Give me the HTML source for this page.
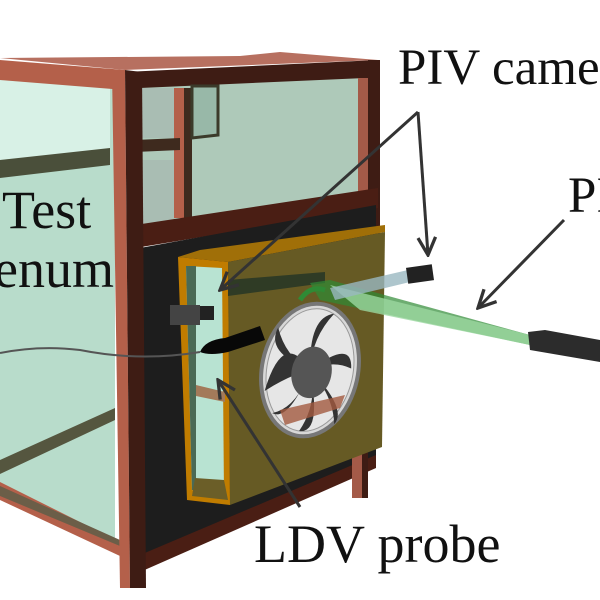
<!DOCTYPE html>
<html><head><style>html,body{margin:0;padding:0;background:#fff;}svg{display:block}</style></head>
<body>
<svg width="600" height="600" viewBox="0 0 600 600" xmlns="http://www.w3.org/2000/svg">
<defs>
<marker id="ah2" viewBox="0 0 20 20" markerWidth="22" markerHeight="22" refX="18" refY="10" orient="auto" markerUnits="userSpaceOnUse">
<path d="M2,2 L18,10 L2,18" fill="none" stroke="#333" stroke-width="3"/>
</marker>
</defs>
<polygon points="0,80 115,88 115,545 0,490" fill="#b8dccb"/>
<polygon points="0,80 110,88 110,150 0,160" fill="#d8f1e6"/>
<polygon points="0,160 110,148 110,165 0,178" fill="#4a4f3a"/>
<polygon points="0,460 115,408 115,420 0,474" fill="#55563f"/>
<polygon points="0,482 120,542 120,556 0,500" fill="#b4604a"/>
<polygon points="0,496 120,546 120,540 0,486" fill="#6b5e48"/>
<polygon points="0,60 125,70 125,90 0,80" fill="#b4604a"/>
<polygon points="0,58 240,56 280,52 378,60 125,70" fill="#b77060"/>
<polygon points="125,72 378,60 378,80 140,90" fill="#3e1c14"/>
<polygon points="140,88 365,78 365,195 140,225" fill="#aec9b9"/>
<rect x="135" y="88" width="40" height="50" fill="#a9bdb3"/>
<rect x="135" y="160" width="40" height="65" fill="#a9bdb3"/>
<rect x="174" y="88" width="10" height="130" fill="#b4604a"/>
<rect x="184" y="88" width="8" height="130" fill="#3e2a1e"/>
<polygon points="192,86 218,86 218,135 192,138" fill="#98b8a8" stroke="#3b3a2a" stroke-width="3"/>
<polygon points="135,140 180,138 180,150 135,152" fill="#3e2a1e"/>
<rect x="358" y="78" width="10" height="120" fill="#a45a48"/>
<rect x="368" y="60" width="12" height="175" fill="#3e1c14"/>
<polygon points="135,225 378,188 378,208 135,248" fill="#4a1e14"/>
<polygon points="140,248 376,205 376,460 140,560" fill="#1d1d1d"/>
<polygon points="140,555 376,455 376,468 140,572" fill="#4a1e14"/>
<polygon points="112,70 125,70 130,588 120,588" fill="#b4604a"/>
<polygon points="125,70 142,72 146,588 130,588" fill="#3e1c14"/>
<rect x="352" y="452" width="10" height="46" fill="#a45a48"/>
<rect x="362" y="452" width="6" height="46" fill="#3e1c14"/>
<polygon points="178,257 200,250 385,225 385,232 228,262" fill="#a06f08"/>
<polygon points="228,262 385,232 382,447 230,505" fill="#665a24"/>
<polygon points="178,257 228,262 230,505 187,500" fill="#c07c00"/>
<polygon points="186,266 222,268 224,495 192,490" fill="#b8e3d2"/>
<polygon points="186,266 196,266 196,490 192,490" fill="#4a6a55"/>
<polygon points="196,385 225,392 225,402 196,396" fill="#a37a5a"/>
<polygon points="195,478 224,480 228,500 192,496" fill="#6b5e28"/>
<polygon points="228,280 325,272 325,283 228,296" fill="#2f3b25"/>
<g transform="rotate(12 310 370)">
<ellipse cx="310" cy="370" rx="48" ry="67" fill="#d8d8d8" stroke="#777" stroke-width="4"/>
<ellipse cx="310" cy="370" rx="43" ry="62" fill="#e6e6e6" stroke="#999" stroke-width="1"/>
<g fill="#333">
<path d="M310,370 Q275,335 270,400 Q290,380 310,370Z"/>
<path d="M310,370 Q300,425 282,420 Q305,410 310,370Z"/>
<path d="M310,370 Q335,430 312,432 Q325,400 310,370Z"/>
<path d="M310,370 Q355,400 345,418 Q338,390 310,370Z"/>
<path d="M310,370 Q262,362 270,335 Q283,362 310,370Z"/>
<path d="M310,370 Q298,318 322,310 Q305,338 310,370Z"/>
<path d="M310,370 Q345,330 350,360 Q330,355 310,370Z"/>
</g>
<ellipse cx="312" cy="372" rx="20" ry="26" fill="#555"/>
</g>
<polygon points="280,410 345,395 340,408 285,425" fill="#a35a40" opacity="0.8"/>
<polygon points="310,283 330,280 530,335 530,345 320,300" fill="#2f8a35" opacity="0.7"/>
<polygon points="330,285 530,335 530,345 360,310" fill="#9bd7a0" opacity="0.8"/>
<path d="M300,300 Q310,285 325,290" stroke="#2f8a35" stroke-width="5" fill="none"/>
<polygon points="330,288 408,270 410,282 335,300" fill="#9ab8c0" opacity="0.8"/>
<rect x="407" y="266" width="26" height="16" fill="#222" transform="rotate(-8 420 274)"/>
<rect x="170" y="305" width="30" height="20" fill="#444"/>
<rect x="200" y="306" width="14" height="14" fill="#222"/>
<path d="M200,352 Q205,340 225,338 L260,326 L265,340 L228,352 Q210,356 200,352Z" fill="#080808"/>
<path d="M0,353 Q40,345 80,350 Q140,362 200,352" stroke="#555" stroke-width="2" fill="none"/>
<polygon points="528,332 545,330 600,340 600,362 530,350" fill="#2c2c2c"/>
<g stroke="#333" stroke-width="3" fill="none">
<path d="M418,112 L220,290" marker-end="url(#ah2)"/>
<path d="M418,112 L428,255" marker-end="url(#ah2)"/>
<path d="M564,220 L478,308" marker-end="url(#ah2)"/>
<path d="M300,507 L218,380" marker-end="url(#ah2)"/>
</g>
<g font-family="'Liberation Serif',serif" fill="#111">
<text x="398" y="84" font-size="51">PIV camera</text>
<text x="568" y="212" font-size="51">PIV</text>
<text x="2" y="228" font-size="54">Test</text>
<text x="-6" y="287" font-size="54">enum</text>
<text x="254" y="562" font-size="54">LDV probe</text>
</g>
</svg>
</body></html>
